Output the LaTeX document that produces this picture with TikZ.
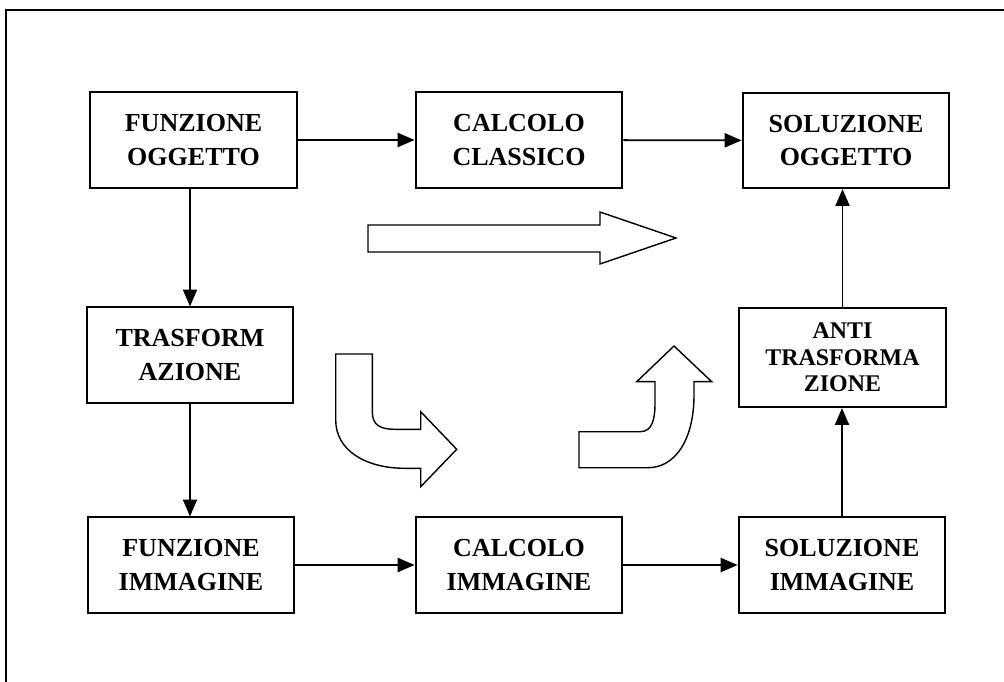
\documentclass[tikz,border=0pt]{standalone}
\usepackage{fontspec}
\setmainfont{Liberation Serif}
\usetikzlibrary{arrows.meta}

\tikzset{
  blk/.style={draw, line width=1.4pt, align=center, inner sep=0pt,
    minimum width=5.17cm, minimum height=2.38cm,
    font=\bfseries\fontsize{18.5}{23.5}\selectfont},
  lnk/.style={line width=1.3pt, -{Triangle[length=12pt,width=10pt]}},
  fat/.style={line width=1pt, fill=white, line join=miter}
}

\begin{document}
\begin{tikzpicture}[x=0.025cm, y=-0.025cm]
                \useasboundingbox (0,0) rectangle (1004,682);
                \draw[line width=1.9pt] (6,682) -- (6,10) -- (1004,10);

                \node[blk] (fo) at (193.5,140) {FUNZIONE\\OGGETTO};
                \node[blk] (cc) at (519,140) {CALCOLO\\CLASSICO};
                \node[blk] (so) at (846,140.5) {SOLUZIONE\\OGGETTO};
                \node[blk] (ta) at (190,355) {TRASFORM\\AZIONE};
                \node[blk, minimum height=2.48cm, font=\bfseries\fontsize{17}{19}\selectfont] (at) at (842.5,357.5) {ANTI\\TRASFORMA\\ZIONE};
                \node[blk] (fi) at (191,565) {FUNZIONE\\IMMAGINE};
                \node[blk] (ci) at (519,565) {CALCOLO\\IMMAGINE};
                \node[blk] (si) at (842,565) {SOLUZIONE\\IMMAGINE};

                \draw[lnk] (fo) -- (cc);
                \draw[lnk] (cc) -- (so);
                \draw[lnk] (fo.south -| ta.north) -- (ta.north);
                \draw[lnk] (ta.south) -- (ta.south |- fi.north);
                \draw[lnk] (fi) -- (ci);
                \draw[lnk] (ci) -- (si);
                \draw[lnk] (si.north) -- (si.north |- at.south);
                \draw[lnk] (at.north) -- (at.north |- so.south);

                \draw[fat] (368,225) -- (600,225) -- (600,212) -- (676,238)
                  -- (600,264) -- (600,252) -- (368,252) -- cycle;
                \draw[fat] (335.7,354) -- (372.3,354) -- (372.3,411.7)
                  .. controls (372.3,425) and (380,429.3) .. (395,429.3)
                  -- (420.7,429.3) -- (420.7,411.7) -- (456.7,449.3)
                  -- (420.7,486.7) -- (420.7,468.3) -- (405,468.3)
                  .. controls (365,468.3) and (335.7,450) .. (335.7,420) -- cycle;
                \draw[fat] (579,431.7) -- (640,431.7)
                  .. controls (652,431.7) and (655,420) .. (655,403)
                  -- (655,381.7) -- (636.7,381.7) -- (674,346) -- (711.7,381.7)
                  -- (694,381.7) -- (694,395)
                  .. controls (694,440) and (675,467.7) .. (648,467.7)
                  -- (579,467.7) -- cycle;
            \end{tikzpicture}
\end{document}
